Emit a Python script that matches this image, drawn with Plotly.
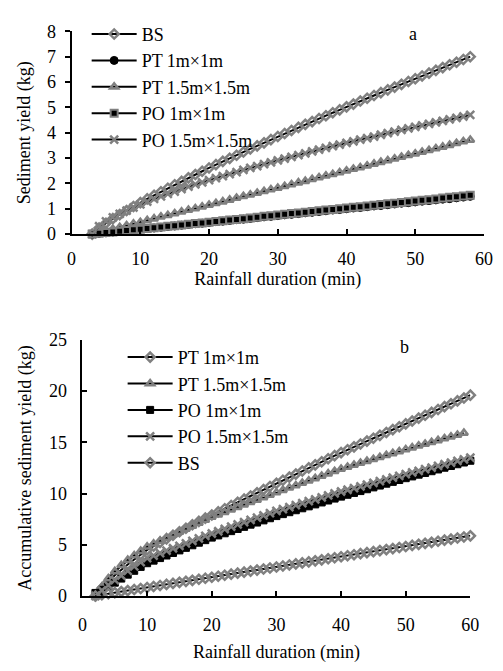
import plotly.graph_objects as go

# ---------------- Panel a: sediment yield (kg) ----------------
t_a = list(range(3, 59))
bs_a = [0, 0.24, 0.43, 0.61, 0.77, 0.93, 1.09, 1.24, 1.39, 1.53,
        1.67, 1.81, 1.95, 2.08, 2.22, 2.35, 2.48, 2.61, 2.74, 2.87,
        2.99, 3.11, 3.24, 3.36, 3.48, 3.60, 3.73, 3.85, 3.97, 4.09,
        4.21, 4.33, 4.44, 4.56, 4.67, 4.79, 4.90, 5.02, 5.13, 5.25,
        5.36, 5.47, 5.58, 5.69, 5.80, 5.91, 6.02, 6.13, 6.24, 6.35,
        6.46, 6.57, 6.68, 6.78, 6.89, 7.00]
pt1_a = [0, 0.03, 0.05, 0.08, 0.11, 0.14, 0.16, 0.19, 0.22, 0.24,
         0.27, 0.30, 0.32, 0.35, 0.38, 0.41, 0.43, 0.46, 0.49, 0.51,
         0.54, 0.57, 0.59, 0.62, 0.65, 0.68, 0.70, 0.73, 0.76, 0.78,
         0.81, 0.84, 0.86, 0.89, 0.92, 0.95, 0.97, 1.00, 1.03, 1.05,
         1.08, 1.11, 1.13, 1.16, 1.19, 1.22, 1.24, 1.27, 1.30, 1.32,
         1.35, 1.38, 1.40, 1.43, 1.46, 1.49]
pt15_a = [0, 0.07, 0.14, 0.20, 0.27, 0.34, 0.41, 0.47, 0.54, 0.61,
          0.68, 0.74, 0.81, 0.88, 0.95, 1.01, 1.08, 1.15, 1.22, 1.28,
          1.35, 1.42, 1.49, 1.55, 1.62, 1.69, 1.76, 1.82, 1.89, 1.96,
          2.03, 2.09, 2.16, 2.23, 2.30, 2.36, 2.43, 2.50, 2.57, 2.63,
          2.70, 2.77, 2.84, 2.90, 2.97, 3.04, 3.11, 3.17, 3.24, 3.31,
          3.38, 3.44, 3.51, 3.58, 3.65, 3.71]
po1_a = [0, 0.03, 0.06, 0.08, 0.11, 0.14, 0.17, 0.19, 0.22, 0.25,
         0.28, 0.31, 0.33, 0.36, 0.39, 0.42, 0.44, 0.47, 0.50, 0.53,
         0.56, 0.58, 0.61, 0.64, 0.67, 0.70, 0.72, 0.75, 0.78, 0.81,
         0.83, 0.86, 0.89, 0.92, 0.95, 0.97, 1.00, 1.03, 1.06, 1.08,
         1.11, 1.14, 1.17, 1.20, 1.22, 1.25, 1.28, 1.31, 1.34, 1.36,
         1.39, 1.42, 1.45, 1.47, 1.50, 1.53]
po15_a = [0, 0.31, 0.50, 0.66, 0.80, 0.93, 1.05, 1.17, 1.28, 1.39,
          1.49, 1.59, 1.68, 1.78, 1.87, 1.96, 2.04, 2.13, 2.21, 2.29,
          2.37, 2.45, 2.53, 2.61, 2.68, 2.76, 2.83, 2.91, 2.98, 3.05,
          3.12, 3.19, 3.26, 3.33, 3.40, 3.47, 3.53, 3.60, 3.66, 3.73,
          3.79, 3.85, 3.92, 3.98, 4.04, 4.11, 4.17, 4.23, 4.29, 4.35,
          4.41, 4.47, 4.53, 4.59, 4.64, 4.70]

# ---------------- Panel b: accumulative sediment yield (kg) ----------------
t_b = list(range(2, 61))
t_b_pt15 = list(range(2, 60))
pt1_b = [0.00, 0.75, 1.42, 2.03, 2.58, 3.08, 3.56, 4.03, 4.50,
         4.87, 5.23, 5.58, 5.93, 6.27, 6.61, 6.95, 7.28, 7.60, 7.90,
         8.21, 8.52, 8.83, 9.14, 9.45, 9.76, 10.07, 10.38, 10.69, 11.00,
         11.30, 11.60, 11.90, 12.20, 12.50, 12.80, 13.10, 13.40, 13.70, 14.00,
         14.28, 14.56, 14.84, 15.12, 15.40, 15.68, 15.96, 16.24, 16.52, 16.80,
         17.08, 17.36, 17.64, 17.92, 18.20, 18.48, 18.76, 19.04, 19.32, 19.60]
pt15_b = [0.00, 0.90, 1.70, 2.40, 3.00, 3.50, 3.95, 4.38, 4.80,
          5.09, 5.38, 5.67, 5.96, 6.25, 6.54, 6.83, 7.12, 7.41, 7.70,
          7.94, 8.18, 8.42, 8.66, 8.90, 9.14, 9.38, 9.62, 9.86, 10.10,
          10.33, 10.56, 10.79, 11.02, 11.25, 11.48, 11.71, 11.94, 12.17, 12.40,
          12.59, 12.78, 12.97, 13.16, 13.35, 13.54, 13.73, 13.92, 14.11, 14.30,
          14.48, 14.66, 14.84, 15.01, 15.19, 15.37, 15.55, 15.72, 15.90]
po1_b = [0.30, 0.60, 0.95, 1.30, 1.70, 2.08, 2.46, 2.84, 3.20,
         3.45, 3.70, 3.95, 4.20, 4.45, 4.70, 4.95, 5.20, 5.45, 5.70,
         5.91, 6.12, 6.33, 6.54, 6.75, 6.96, 7.17, 7.38, 7.59, 7.80,
         7.99, 8.18, 8.37, 8.56, 8.75, 8.94, 9.13, 9.32, 9.51, 9.70,
         9.88, 10.06, 10.24, 10.42, 10.60, 10.78, 10.96, 11.14, 11.32, 11.50,
         11.67, 11.84, 12.01, 12.18, 12.35, 12.52, 12.69, 12.86, 13.03, 13.20]
po15_b = [0.00, 0.55, 1.05, 1.55, 2.00, 2.45, 2.88, 3.30, 3.70,
          3.94, 4.18, 4.42, 4.66, 4.90, 5.14, 5.38, 5.62, 5.86, 6.10,
          6.32, 6.54, 6.76, 6.98, 7.20, 7.42, 7.64, 7.86, 8.08, 8.30,
          8.49, 8.68, 8.87, 9.06, 9.25, 9.44, 9.63, 9.82, 10.01, 10.20,
          10.37, 10.54, 10.71, 10.88, 11.05, 11.22, 11.39, 11.56, 11.73, 11.90,
          12.06, 12.22, 12.38, 12.54, 12.70, 12.86, 13.02, 13.18, 13.34, 13.50]
bs_b = [0.00, 0.12, 0.23, 0.33, 0.43, 0.53, 0.63, 0.73, 0.83, 0.93,
        1.03, 1.13, 1.23, 1.33, 1.43, 1.53, 1.63, 1.73, 1.83, 1.93,
        2.03, 2.13, 2.23, 2.33, 2.43, 2.53, 2.63, 2.73, 2.83, 2.93,
        3.03, 3.13, 3.23, 3.33, 3.43, 3.53, 3.63, 3.73, 3.83, 3.93,
        4.03, 4.13, 4.23, 4.33, 4.43, 4.53, 4.63, 4.73, 4.83, 4.94,
        5.04, 5.14, 5.24, 5.34, 5.45, 5.55, 5.66, 5.76, 5.87]

GRAY = "#808080"
FONT = "Liberation Serif"
FS = 18
HOLLOW = "rgba(0,0,0,0)"

fig = go.Figure()


def add(x, y, name, sym, fill, edge, ew, size, xa, ya, lg):
    fig.add_trace(go.Scatter(
        x=x, y=y, name=name, mode="lines+markers",
        line=dict(color="black", width=2),
        marker=dict(symbol=sym, color=fill, size=size, line=dict(color=edge, width=ew)),
        xaxis=xa, yaxis=ya, legend=lg, cliponaxis=False))


# panel a
add(t_a, bs_a, "BS", "diamond", HOLLOW, GRAY, 2.5, 7, "x", "y", "legend")
add(t_a, pt1_a, "PT 1m×1m", "circle", "black", "black", 1, 8, "x", "y", "legend")
add(t_a, pt15_a, "PT 1.5m×1.5m", "triangle-up", HOLLOW, GRAY, 2.5, 7, "x", "y", "legend")
add(t_a, po1_a, "PO 1m×1m", "square", "black", GRAY, 2, 7, "x", "y", "legend")
add(t_a, po15_a, "PO 1.5m×1.5m", "x-thin", GRAY, GRAY, 2.5, 8, "x", "y", "legend")

# panel b
add(t_b, pt1_b, "PT 1m×1m", "diamond", HOLLOW, GRAY, 2.5, 7, "x2", "y2", "legend2")
add(t_b_pt15, pt15_b, "PT 1.5m×1.5m", "triangle-up", HOLLOW, GRAY, 2.5, 7, "x2", "y2", "legend2")
add(t_b, po1_b, "PO 1m×1m", "square", "black", "black", 1, 7, "x2", "y2", "legend2")
add(t_b, po15_b, "PO 1.5m×1.5m", "x-thin", GRAY, GRAY, 2.5, 8, "x2", "y2", "legend2")
add(t_b, bs_b, "BS", "diamond", HOLLOW, GRAY, 2.5, 7, "x2", "y2", "legend2")

W, H = 503, 671

axis_common = dict(showline=True, linecolor="black", linewidth=2, showgrid=False,
                   zeroline=False, tickcolor="black", tickwidth=2, ticklen=5,
                   tickfont=dict(family=FONT, size=FS, color="black"))

fig.update_layout(
    width=W, height=H, margin=dict(l=0, r=0, t=0, b=0),
    paper_bgcolor="white", plot_bgcolor="white",
    font=dict(family=FONT, size=FS, color="black"),
    xaxis=dict(domain=[68.5 / W, 492.7 / W], range=[0, 60], tick0=0, dtick=10,
               ticks="inside", anchor="y", ticklabelstandoff=7,
               title=dict(text="Rainfall duration (min)", standoff=2,
                          font=dict(family=FONT, size=FS)), **axis_common),
    yaxis=dict(domain=[1 - 231 / H, 1 - 22 / H], range=[0, 8], tick0=0, dtick=1,
               ticks="outside", anchor="x", ticklabelstandoff=5,
               title=dict(text="Sediment yield (kg)", standoff=12,
                          font=dict(family=FONT, size=FS)), **axis_common),
    xaxis2=dict(domain=[79.7 / W, 478.7 / W], range=[0, 60], tick0=0, dtick=10,
                ticks="inside", anchor="y2", ticklabelstandoff=11,
                title=dict(text="Rainfall duration (min)", standoff=12,
                           font=dict(family=FONT, size=FS)), **axis_common),
    yaxis2=dict(domain=[1 - 604 / H, 1 - 340 / H], range=[0, 25], tick0=0, dtick=5,
                ticks="inside", anchor="x2", ticklabelstandoff=10,
                title=dict(text="Accumulative sediment yield (kg)", standoff=13,
                           font=dict(family=FONT, size=FS)), **axis_common),
    legend=dict(x=84 / W, y=1 - 6 / H, xanchor="left", yanchor="top",
                bgcolor="rgba(0,0,0,0)", font=dict(family=FONT, size=FS),
                itemwidth=45, tracegroupgap=0),
    legend2=dict(x=121 / W, y=1 - 339 / H, xanchor="left", yanchor="top",
                 bgcolor="rgba(0,0,0,0)", font=dict(family=FONT, size=FS),
                 itemwidth=45, tracegroupgap=0),
    annotations=[
        dict(text="a", x=420 / W, y=1 - 25 / H, xref="paper", yref="paper",
             xanchor="center", yanchor="middle",
             showarrow=False, font=dict(family=FONT, size=FS)),
        dict(text="b", x=411 / W, y=1 - 347 / H, xref="paper", yref="paper",
             xanchor="center", yanchor="middle",
             showarrow=False, font=dict(family=FONT, size=FS)),
    ],
)

fig.write_html("out.html")
